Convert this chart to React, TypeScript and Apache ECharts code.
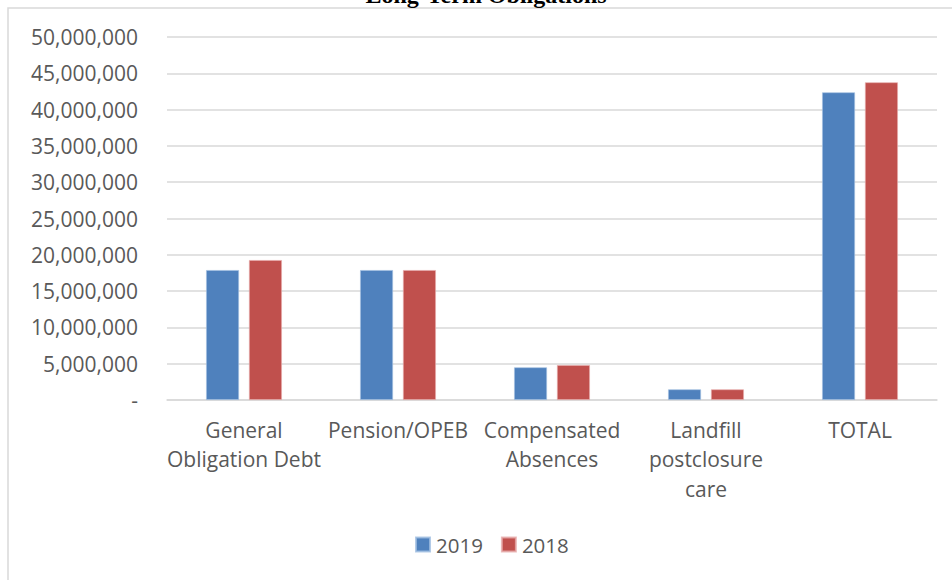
import React, { useEffect, useRef } from "react";
import * as echarts from "echarts";

const categories = [
  "General\nObligation Debt",
  "Pension/OPEB",
  "Compensated\nAbsences",
  "Landfill\npostclosure\ncare",
  "TOTAL",
];
const values2019 = [17900000, 17900000, 4500000, 1470000, 42380000];
const values2018 = [19280000, 17900000, 4820000, 1470000, 43760000];
const seriesNames = ["2019", "2018"];
const titleText = "Long-Term Obligations";

const FONT = "'Open Sans', 'Noto Sans', sans-serif";
const LABEL_COLOR = "#595959";

export default function App() {
  const ref = useRef<HTMLDivElement>(null);

  useEffect(() => {
    if (!ref.current) return;
    const chart = echarts.init(ref.current, undefined, { renderer: "svg" });
    chart.setOption({
      animation: false,
      backgroundColor: "#ffffff",
      graphic: [
        {
          type: "rect",
          shape: { x: 8, y: 8, width: 1000, height: 700 },
          style: { fill: "none", stroke: "#d9d9d9", lineWidth: 1.5 },
          silent: true,
          z: 0,
        },
        {
          type: "text",
          x: 486,
          y: -5,
          style: {
            text: titleText,
            font: "bold 24px 'Liberation Serif', 'Times New Roman', serif",
            fill: "#000000",
            textAlign: "center",
            textVerticalAlign: "middle",
          },
          z: 10,
        },
      ],
      legend: {
        data: seriesNames,
        left: 415,
        top: 534,
        padding: 0,
        itemWidth: 14,
        itemHeight: 14,
        itemGap: 18,
        icon: "rect",
        textStyle: { fontFamily: FONT, fontSize: 20.5, color: LABEL_COLOR, padding: [0, 0, 0, 1] },
      },
      grid: { left: 167, right: 15, top: 37, bottom: 180, containLabel: false },
      xAxis: {
        type: "category",
        data: categories,
        axisLine: { show: true, lineStyle: { color: "#d9d9d9", width: 1.5 } },
        axisTick: { show: false },
        axisLabel: {
          interval: 0,
          margin: 15,
          fontFamily: FONT,
          fontSize: 21,
          lineHeight: 29.5,
          color: LABEL_COLOR,
          align: "center",
        },
      },
      yAxis: {
        type: "value",
        min: 0,
        max: 50000000,
        interval: 5000000,
        axisLine: { show: false },
        axisTick: { show: false },
        splitLine: { lineStyle: { color: "#d9d9d9", width: 1.5 } },
        axisLabel: {
          margin: 29,
          fontFamily: FONT,
          fontSize: 21,
          color: LABEL_COLOR,
          formatter: (v: number) => (v === 0 ? "-" : v.toLocaleString("en-US")),
        },
      },
      series: [
        {
          name: seriesNames[0],
          type: "bar",
          data: values2019,
          barWidth: 33,
          barGap: "30%",
          itemStyle: { color: "#4f81bd", borderColor: "rgba(160,190,225,0.8)", borderWidth: 0.8 },
        },
        {
          name: seriesNames[1],
          type: "bar",
          data: values2018,
          barWidth: 33,
          barGap: "30%",
          itemStyle: { color: "#c0504d", borderColor: "rgba(230,170,170,0.8)", borderWidth: 0.8 },
        },
      ],
    });
    return () => chart.dispose();
  }, []);

  return (
    <div
      ref={ref}
      style={{ position: "fixed", left: 0, top: 0, width: 952, height: 580 }}
    />
  );
}
